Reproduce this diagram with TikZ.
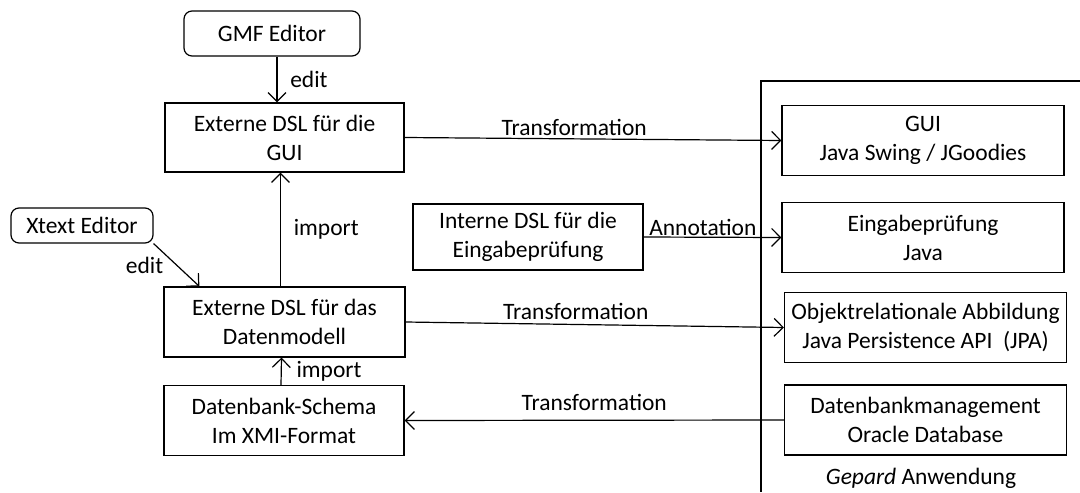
\documentclass[tikz,border=0pt]{standalone}
\usepackage{fontspec}
\setmainfont{Carlito}
\usetikzlibrary{arrows.meta}

\begin{document}
\begin{tikzpicture}[x=0.5pt, y=-0.5pt,
    every node/.style={font=\fontsize{11.75}{14.5}\selectfont},
    box/.style={draw, line width=0.6pt, align=center, inner sep=1pt,
        minimum width=#1, minimum height=35pt},
    box/.default=120pt,
    editor/.style={draw, line width=0.6pt, rounded corners=4pt, inner sep=1pt},
    conn/.style={line width=0.6pt, -{Straight Barb[length=4.5pt, width=9pt]}}]

\useasboundingbox (0,0) rectangle (1080,492);

% tools
\node[editor, minimum width=88pt, minimum height=22.5pt] (gmf) at (272,33.5) {GMF Editor};
\node[editor, minimum width=71pt, minimum height=17.5pt] (xtext) at (82,225.5) {Xtext Editor};

% DSLs
\node[box=119.5pt, minimum height=34.5pt] (dslgui) at (284.5,137.5) {Externe DSL für die\\GUI};
\node[box=120.5pt] (dsldata) at (284.5,322) {Externe DSL für das\\Datenmodell};
\node[box] (schema) at (284,420.5) {Datenbank-Schema\\Im XMI-Format};
\node[box=115pt, minimum height=33pt] (dslcheck) at (528,237) {Interne DSL für die\\Eingabeprüfung};

% Gepard application
\draw[line width=0.6pt] (1080,81) -| (761,492);
\node[box=141pt] (gui) at (923,140.5) {GUI\\Java Swing / JGoodies};
\node[box=141pt] (check) at (923,237.5) {Eingabeprüfung\\Java};
\node[box=141pt] (orm) at (925.5,327.5) {Objektrelationale Abbildung\\Java Persistence API\ \ (JPA)};
\node[box=141pt] (dbms) at (925.5,420) {Datenbankmanagement\\Oracle Database};
\node (app) at (921,478) {\itshape Gepard\upshape{} Anwendung};

% connectors
\draw[conn] ([xshift=2.5pt]gmf.south) -- ([xshift=-3.75pt]dslgui.north) node[midway, right=3pt] {edit};
\draw[conn] (xtext.south east) -- ([xshift=18pt]dsldata.north west) node[midway, left=3pt] {edit};
\draw[conn] ([xshift=-2pt]dsldata.north) -- ([xshift=-2pt]dslgui.south) node[midway, right=3pt] {import};
\draw[conn] ([xshift=-1.5pt]schema.north) -- ([xshift=-1.5pt]dsldata.south) node[midway, right=4pt] {import};
\draw[conn] (dslgui.east) -- (gui.west) node[pos=0.45, above=-2pt] {Transformation};
\draw[conn] (dslcheck.east) -- (check.west) node[pos=0.43, above=-3pt] {Annotation};
\draw[conn] (dsldata.east) -- (orm.west) node[pos=0.45, above=-1pt] {Transformation};
\draw[conn] (dbms.west) -- (schema.east) node[midway, above=1pt] {Transformation};

\end{tikzpicture}
\end{document}
